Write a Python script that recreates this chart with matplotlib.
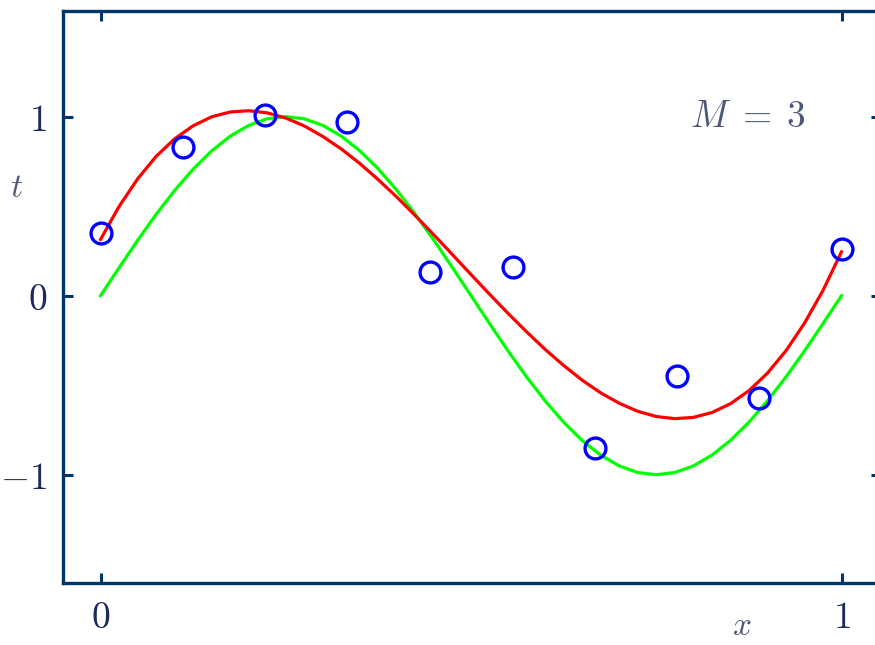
import matplotlib
matplotlib.use("Agg")
import matplotlib.pyplot as plt

plt.rcParams['mathtext.fontset'] = 'cm'
plt.rcParams['font.family'] = ['DejaVu Serif', 'DejaVu Sans']

# observed data points
x_data = [0.0, 0.111, 0.222, 0.333, 0.444, 0.556, 0.667, 0.778, 0.889, 1.0]
t_data = [0.35, 0.83, 1.01, 0.97, 0.13, 0.16, -0.85, -0.45, -0.57, 0.26]

# curves (x every 0.025)
x_curve = [i / 40 for i in range(41)]
green_curve = [0.000, 0.156, 0.309, 0.454, 0.588, 0.707, 0.809, 0.891, 0.951, 0.988,
               1.000, 0.988, 0.951, 0.891, 0.809, 0.707, 0.588, 0.454, 0.309, 0.156,
               0.000, -0.156, -0.309, -0.454, -0.588, -0.707, -0.809, -0.891, -0.951, -0.988,
               -1.000, -0.988, -0.951, -0.891, -0.809, -0.707, -0.588, -0.454, -0.309, -0.156,
               0.000]
red_curve = [0.314, 0.498, 0.652, 0.778, 0.876, 0.949, 0.999, 1.026, 1.033, 1.021,
             0.992, 0.948, 0.889, 0.819, 0.738, 0.647, 0.550, 0.446, 0.339, 0.229,
             0.118, 0.008, -0.099, -0.202, -0.300, -0.390, -0.472, -0.543, -0.601, -0.646,
             -0.675, -0.687, -0.680, -0.653, -0.604, -0.531, -0.433, -0.308, -0.154, 0.029,
             0.245]

x_ticks = [0, 1]
x_ticklabels = ['$0$', '$1$']
y_ticks = [-1, 0, 1]
y_ticklabels = ['$-1$', '$0$', '$1$']

spine_col = '#00356b'
tick_text_col = '#1e2a5e'
label_col = '#4c5878'

fig = plt.figure(figsize=(8.75, 6.45), dpi=100)
left_px, right_px = 63.5, 881
ax = fig.add_axes([left_px / 875, 62 / 645, (right_px - left_px) / 875, 572 / 645])

ax.plot(x_curve, green_curve, color='#00ff00', lw=2.3, zorder=2)
ax.plot(x_curve, red_curve, color='#ff0000', lw=2.3, zorder=3)
ax.plot(x_data, t_data, 'o', ms=15, mfc='none', mec='#0000ff', mew=2.4, zorder=4)

ax.set_xlim(-0.05, 1.0533)
ax.set_ylim(-1.605, 1.59)

ax.set_xticks(x_ticks)
ax.set_xticklabels(x_ticklabels)
ax.set_yticks(y_ticks)
ax.set_yticklabels(y_ticklabels)

for s in ax.spines.values():
    s.set_color(spine_col)
    s.set_linewidth(2.4)

ax.tick_params(axis='both', direction='in', length=7, width=2.2, color=spine_col,
               labelsize=27, labelcolor=tick_text_col, top=True, right=True)
ax.tick_params(axis='x', pad=12)
ax.tick_params(axis='y', pad=12)

ax.set_xlabel('$x$', fontsize=24, color=label_col, va='center')
ax.xaxis.set_label_coords(0.83, -0.075)
ax.set_ylabel('$t$', fontsize=24, color=label_col, rotation=0, va='center', ha='center')
ax.yaxis.set_label_coords(-0.057, 0.69)

ax.text(0.874, 1.0, r'$M\;=\;3$', fontsize=27, color=label_col, ha='center', va='center')

fig.savefig('out.png', dpi=100)
